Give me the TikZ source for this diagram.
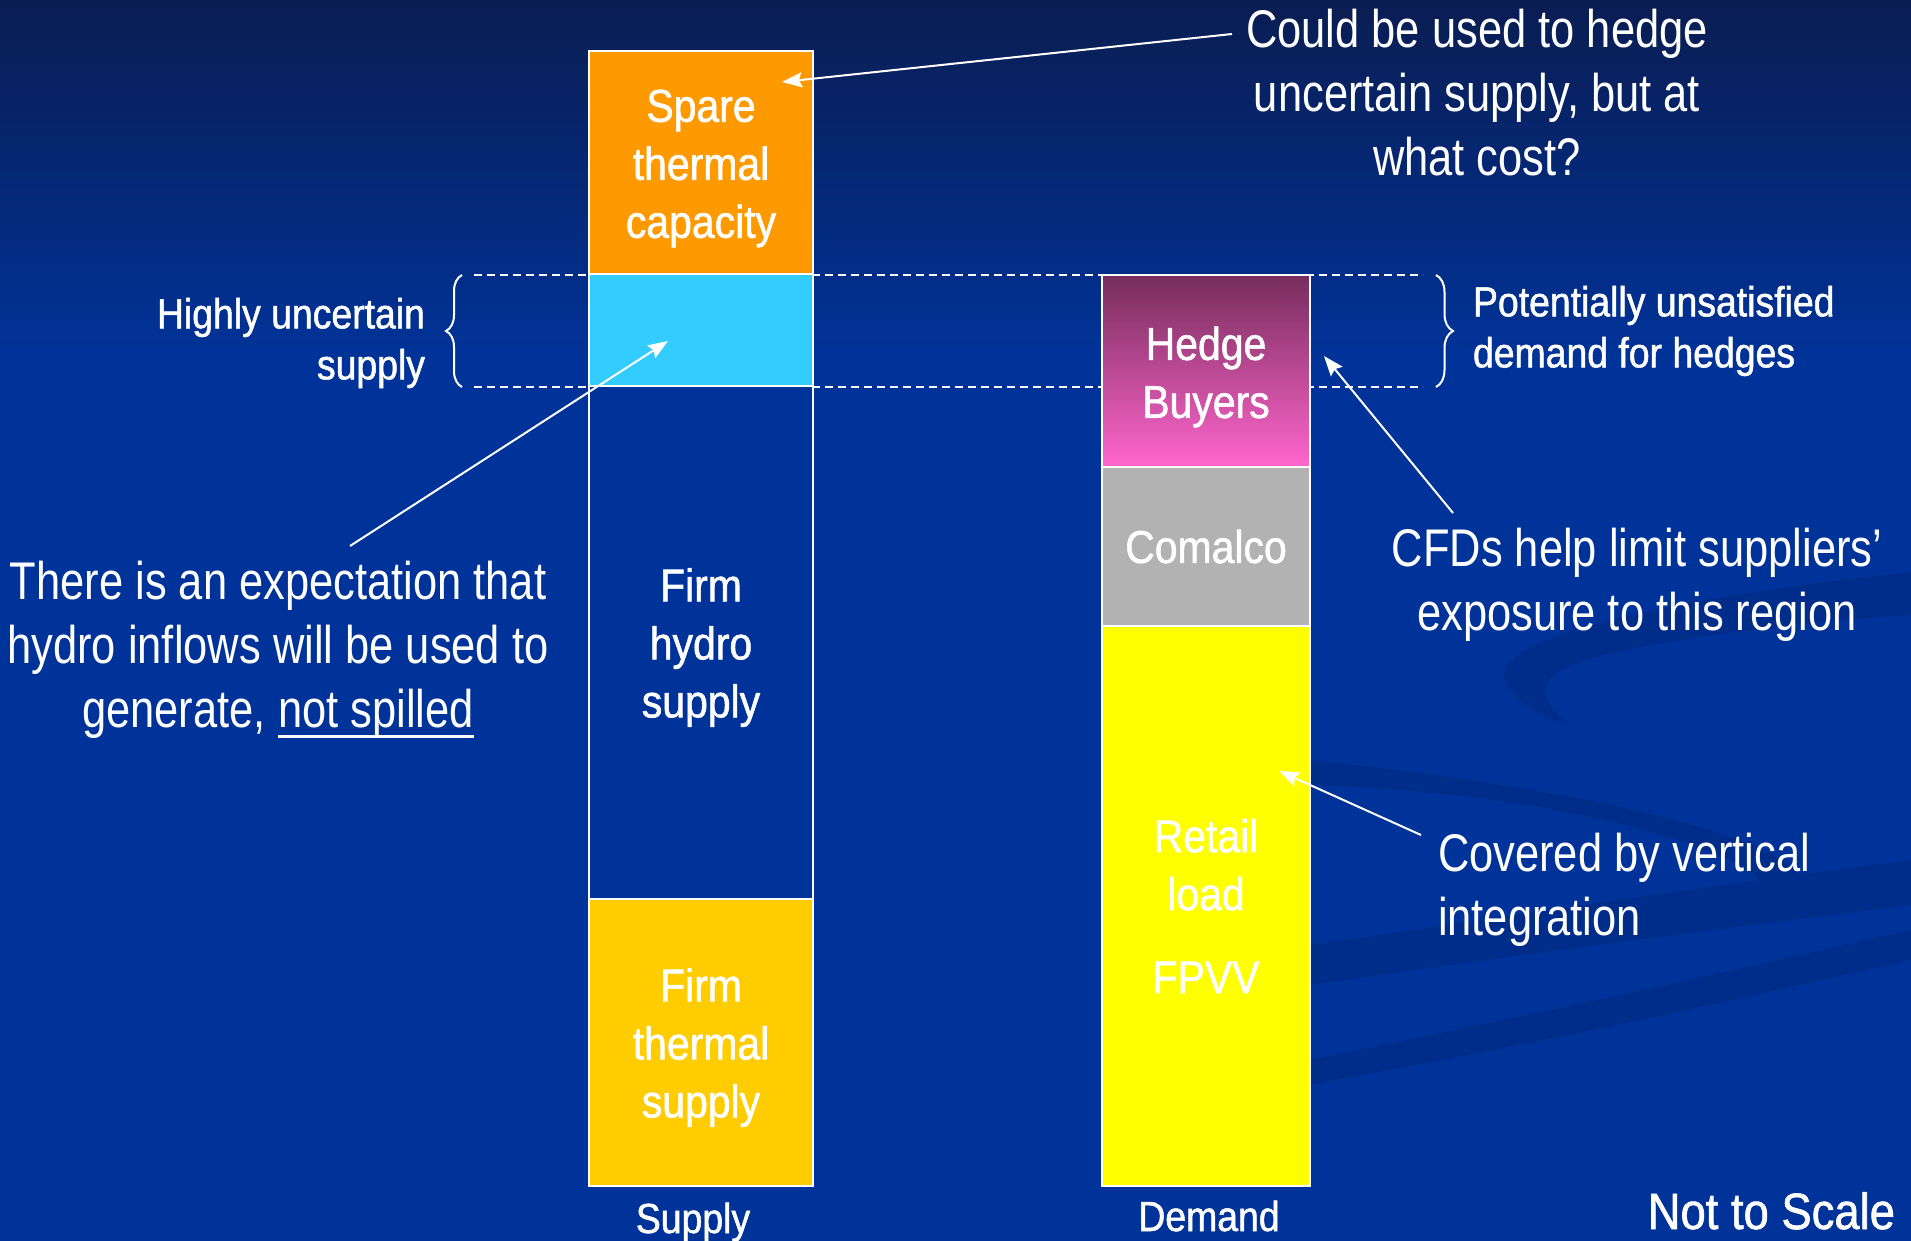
\documentclass[tikz,border=0pt]{standalone}
\usepackage{fontspec}
\setmainfont{Liberation Sans}[FakeStretch=0.82]
\newfontfamily\labelfont{Liberation Sans}[FakeStretch=0.89,FakeBold=1.2]
\usepackage{tikz}
\usetikzlibrary{arrows.meta,decorations.pathreplacing,positioning}
\definecolor{navytop}{RGB}{10,29,82}
\definecolor{slideblue}{RGB}{0,51,153}
\definecolor{swirlblue}{RGB}{0,45,138}
\definecolor{spareorange}{RGB}{255,153,0}
\definecolor{uncertaincyan}{RGB}{51,204,255}
\definecolor{thermalgold}{RGB}{255,204,0}
\definecolor{hedgetop}{RGB}{118,45,92}
\definecolor{hedgepink}{RGB}{255,102,204}
\definecolor{comalcogrey}{RGB}{178,178,178}
\definecolor{retailyellow}{RGB}{255,255,0}
\newcommand{\underrule}[1]{\setbox0=\hbox{#1}\rlap{\rule[-10pt]{\wd0}{2.5pt}}\box0}

\begin{document}
\begin{tikzpicture}
              [x=1pt,y=-1pt,
                every node/.style={text=white,inner sep=0pt,outer sep=0pt},
                bar/.style={draw=white,line width=2pt},
                supplybar/.style={bar,minimum width=224pt},
                demandbar/.style={bar,minimum width=208pt},
                barlabel/.style={align=center,font=\labelfont\fontsize{46}{58}\selectfont},
                note/.style={font=\fontsize{53}{64}\selectfont},
                side/.style={font=\labelfont\fontsize{42}{51}\selectfont},
                axis/.style={font=\labelfont\fontsize{42}{50}\selectfont},
                guide/.style={draw=white,line width=2pt,dash pattern=on 8pt off 5pt},
                bracket/.style={draw=white,line width=2pt,decorate,decoration={brace,amplitude=16pt,aspect=0.5}},
                pointer/.style={draw=white,line width=2pt,-{Stealth[length=20pt,width=15pt,inset=3pt]}}]
              \useasboundingbox (0,0) rectangle (1911,1241);
              % slide background
              \fill[top color=navytop,bottom color=slideblue] (0,0) rectangle (1911,360);
              \fill[slideblue] (0,360) rectangle (1911,1241);
              \fill[swirlblue] (1911,572) .. controls (1650,600) and (1490,640) .. (1505,680)
                .. controls (1515,705) and (1545,718) .. (1568,724)
                .. controls (1540,700) and (1530,680) .. (1580,662)
                .. controls (1650,640) and (1800,622) .. (1911,615) -- cycle;
              \fill[swirlblue] (1310,760) .. controls (1500,780) and (1760,820) .. (1805,880)
                .. controls (1820,900) and (1760,915) .. (1700,925)
                .. controls (1770,900) and (1770,880) .. (1740,865)
                .. controls (1650,820) and (1480,790) .. (1310,785) -- cycle;
              \fill[swirlblue] (1310,945) .. controls (1550,910) and (1750,880) .. (1911,860)
                -- (1911,905) .. controls (1750,925) and (1550,950) .. (1310,985) -- cycle;
              \fill[swirlblue] (1310,1060) .. controls (1600,1000) .. (1911,930)
                -- (1911,960) .. controls (1600,1030) .. (1310,1085) -- cycle;

              % band of uncertain hydro
              \coordinate (bandtopleft) at (474,275);
              \coordinate (bandtopright) at (1423,275);
              \coordinate (bandbotleft) at (474,387);
              \coordinate (bandbotright) at (1423,387);
              \draw[guide] (bandtopleft) -- (bandtopright);
              \draw[guide] (bandbotleft) -- (bandbotright);
              \coordinate (lbrace1) at (462,387);
              \coordinate (lbrace2) at (462,275);
              \coordinate (rbrace1) at (1436,275);
              \coordinate (rbrace2) at (1436,387);
              \draw[bracket] (lbrace1) -- (lbrace2);
              \draw[bracket,decoration={amplitude=17pt}] (rbrace1) -- (rbrace2);

              % supply column
              \node[supplybar,fill=spareorange,minimum height=223pt,anchor=north] (spare) at (701,51) {};
              \node[supplybar,fill=uncertaincyan,minimum height=112pt,below=0pt of spare] (uncertain) {};
              \node[supplybar,fill=slideblue,minimum height=513pt,below=0pt of uncertain] (hydro) {};
              \node[supplybar,fill=thermalgold,minimum height=287pt,below=0pt of hydro] (thermal) {};
              \node[barlabel,yshift=-6pt] (sparelbl) at (spare.center) {Spare\\thermal\\capacity};
              \node[barlabel,yshift=-5pt] (hydrolbl) at (hydro.center) {Firm\\hydro\\supply};
              \node[barlabel,yshift=-5pt] (thermallbl) at (thermal.center) {Firm\\thermal\\supply};
              \node[axis,anchor=base] (supplylbl) at (693,1233) {Supply};

              % demand column
              \node[demandbar,top color=hedgetop,bottom color=hedgepink,minimum height=192pt,anchor=north] (hedge) at (1206,275) {};
              \node[demandbar,fill=comalcogrey,minimum height=159pt,below=0pt of hedge] (comalco) {};
              \node[demandbar,fill=retailyellow,minimum height=560pt,below=0pt of comalco] (retail) {};
              \node[barlabel,yshift=-6pt] (hedgelbl) at (hedge.center) {Hedge\\Buyers};
              \node[barlabel] (comalcolbl) at (comalco.center) {Comalco};
              \node[barlabel] (retaillbl) at (retail.center) {Retail\\load\\[25pt]FPVV};
              \node[axis,anchor=base] (demandlbl) at (1209,1231) {Demand};

              % side labels and notes
              \node[side,align=right,anchor=east] (highly) at (425,343) {Highly uncertain\\supply};
              \node[side,align=left,anchor=west] (unsat) at (1473,331) {Potentially unsatisfied\\demand for hedges};
              \node[note,align=center] (cost) at (1477,93) {Could be used to hedge\\uncertain supply, but at\\what cost?};
              \node[note,align=center] (expect) at (278,650) {There is an expectation that\\hydro inflows will be used to\\generate, \underrule{not spilled}};
              \node[note,align=center] (cfds) at (1637,585) {CFDs help limit suppliers’\\exposure to this region};
              \node[note,align=left,anchor=west] (covered) at (1438,890) {Covered by vertical\\integration};
              \node[axis,font=\labelfont\fontsize{51}{60}\selectfont,anchor=base east] (scale) at (1895,1229) {Not to Scale};

              % arrows from the notes
              \coordinate (costtail) at (1232,34);
              \coordinate (costhead) at (782,82);
              \coordinate (expecttail) at (350,546);
              \coordinate (expecthead) at (668,341);
              \coordinate (cfdtail) at (1453,513);
              \coordinate (cfdhead) at (1324,356);
              \coordinate (coveredtail) at (1421,835);
              \coordinate (coveredhead) at (1279,771);
              \draw[pointer] (costtail) -- (costhead);
              \draw[pointer] (expecttail) -- (expecthead);
              \draw[pointer] (cfdtail) -- (cfdhead);
              \draw[pointer] (coveredtail) -- (coveredhead);
            \end{tikzpicture}
\end{document}
